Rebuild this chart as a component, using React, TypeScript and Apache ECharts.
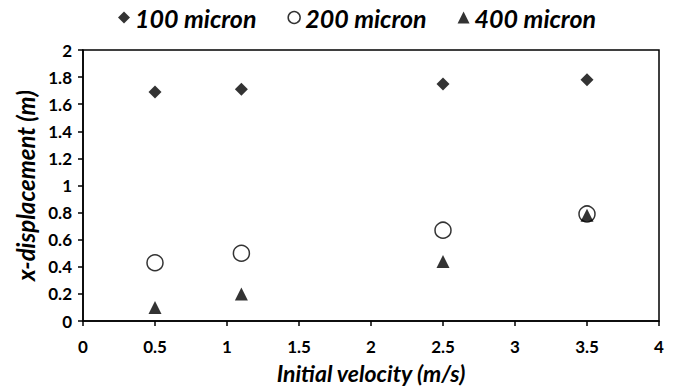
import React, { useEffect, useRef } from "react";
import * as echarts from "echarts";

const xs = [0.5, 1.1, 2.5, 3.5];
const s100 = [1.69, 1.71, 1.75, 1.78];
const s200 = [0.43, 0.5, 0.67, 0.79];
const s400 = [0.1, 0.2, 0.44, 0.78];
const seriesNames = ["100 micron", "200 micron", "400 micron"];

const FONT = "Lato, 'Open Sans', sans-serif";

export default function App() {
  const ref = useRef<HTMLDivElement>(null);
  useEffect(() => {
    if (!ref.current) return;
    const chart = echarts.init(ref.current, null, { renderer: "svg" });
    const pair = (vals: number[]) => xs.map((x, i) => [x, vals[i]]);
    chart.setOption({
      animation: false,
      backgroundColor: "#fff",
      legend: {
        top: 0,
        left: 113,
        itemGap: 31,
        itemWidth: 12,
        itemHeight: 12,
        textStyle: {
          fontFamily: FONT,
          fontSize: 25,
          fontWeight: "bold",
          fontStyle: "italic",
          color: "#000",
        },
        data: [
          { name: seriesNames[0], icon: "diamond", itemStyle: { color: "#000" } },
          { name: seriesNames[1], icon: "circle", itemStyle: { color: "#fff", borderColor: "#000", borderWidth: 1.5 } },
          { name: seriesNames[2], icon: "triangle", itemStyle: { color: "#000" } },
        ],
      },
      grid: {
        left: 83,
        right: 14,
        top: 50,
        bottom: 69,
        show: true,
        borderColor: "#000",
        borderWidth: 1.5,
        containLabel: false,
        outerBoundsMode: "none",
      },
      xAxis: {
        type: "value",
        min: 0,
        max: 4,
        interval: 0.5,
        name: "Initial velocity (m/s)",
        nameLocation: "middle",
        nameGap: 40,
        nameTextStyle: {
          fontFamily: FONT,
          fontSize: 23,
          fontWeight: "bold",
          fontStyle: "italic",
          color: "#000",
        },
        axisLine: { show: true, lineStyle: { color: "#000", width: 1.5 } },
        axisTick: { show: true, length: 5, inside: false, lineStyle: { color: "#000", width: 1.5 } },
        splitLine: { show: false },
        axisLabel: {
          fontFamily: FONT,
          fontSize: 17,
          fontWeight: "bold",
          color: "#000",
          margin: 17,
        },
      },
      yAxis: {
        type: "value",
        min: 0,
        max: 2,
        interval: 0.2,
        name: "x-displacement (m)",
        nameLocation: "middle",
        nameGap: 45,
        nameTextStyle: {
          fontFamily: FONT,
          fontSize: 24,
          fontWeight: "bold",
          fontStyle: "italic",
          color: "#000",
        },
        axisLine: { show: true, lineStyle: { color: "#000", width: 1.5 } },
        axisTick: { show: true, length: 5, inside: false, lineStyle: { color: "#000", width: 1.5 } },
        splitLine: { show: false },
        axisLabel: {
          fontFamily: FONT,
          fontSize: 17,
          fontWeight: "bold",
          color: "#000",
          margin: 11,
          formatter: (v: number) => String(Math.round(v * 10) / 10),
        },
      },
      series: [
        {
          name: seriesNames[0],
          type: "scatter",
          symbol: "diamond",
          symbolSize: 13,
          itemStyle: { color: "#000" },
          data: pair(s100),
        },
        {
          name: seriesNames[1],
          type: "scatter",
          symbol: "circle",
          symbolSize: 16,
          itemStyle: { color: "#fff", borderColor: "#000", borderWidth: 1.5 },
          data: pair(s200),
        },
        {
          name: seriesNames[2],
          type: "scatter",
          symbol: "triangle",
          symbolSize: 13,
          itemStyle: { color: "#000" },
          data: pair(s400),
        },
      ],
    });
    return () => chart.dispose();
  }, []);
  return (
    <div
      ref={ref}
      style={{ position: "fixed", left: 0, top: 0, width: 673, height: 390 }}
    />
  );
}
